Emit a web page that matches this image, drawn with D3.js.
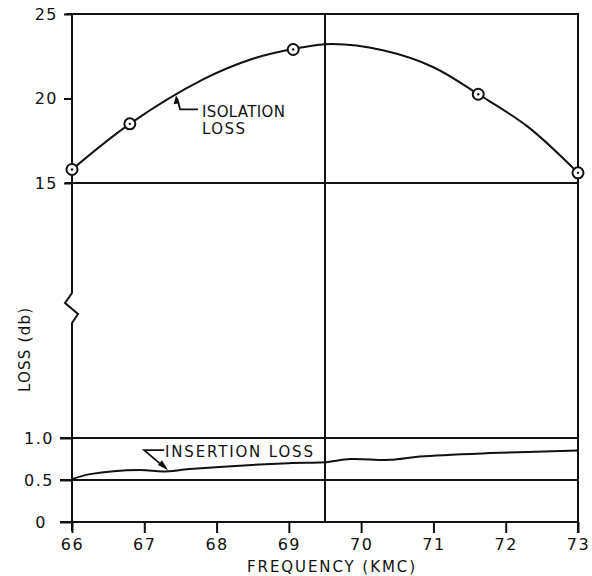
<!DOCTYPE html>
<html><head><meta charset="utf-8">
<script src="https://cdn.jsdelivr.net/npm/d3@7"></script>
<style>body{margin:0;background:#fff}</style>
</head><body>
<svg id="c" width="592" height="576"></svg>
<script>
// ---- data ----
const freqTicks = [66, 67, 68, 69, 70, 71, 72, 73];
const upperTicks = [15, 20, 25];
const upperTickLabels = ["15", "20", "25"];
const lowerTicks = [0, 0.5, 1.0];
const lowerTickLabels = ["0", "0.5", "1.0"];
const isoPointsFreq = [66, 66.8, 69.06, 71.62, 73];
const isoPointsLoss = [15.8, 18.5, 22.9, 20.25, 15.6];
const isoCurveFreq = [66, 66.8, 67.8, 68.5, 69.06, 69.6, 70.3, 71.0, 71.62, 72.3, 73];
const isoCurveLoss = [15.8, 18.5, 21.1, 22.35, 22.93, 23.22, 22.85, 21.85, 20.25, 18.35, 15.6];
const insFreq = [66, 66.25, 66.94, 67.26, 67.63, 68.99, 69.49, 69.85, 70.4, 70.81, 71.78, 73];
const insLoss = [0.51, 0.57, 0.62, 0.60, 0.63, 0.70, 0.71, 0.75, 0.74, 0.78, 0.82, 0.85];
const refFreq = 69.5;

// ---- scales ----
const ink = "#111";
const FONT = "DejaVu Sans";
const svg = d3.select("#c");
const x = d3.scaleLinear().domain([66, 73]).range([72, 578]);
const yU = d3.scaleLinear().domain([15, 25]).range([183, 14]);
const yL = d3.scaleLinear().domain([0, 1]).range([522, 438]);

// ---- grid / frame ----
const g = svg.append("g").attr("stroke", ink).attr("stroke-width", 2).attr("fill", "none");
g.append("line").attr("x1", 66).attr("x2", x(73) + 1).attr("y1", yU(25)).attr("y2", yU(25));
g.append("line").attr("x1", 65).attr("x2", x(73) + 1).attr("y1", yU(15)).attr("y2", yU(15));
lowerTicks.forEach(v => {
  g.append("line").attr("x1", 60).attr("x2", x(73)).attr("y1", yL(v)).attr("y2", yL(v));
});
// left axis with break
g.append("path").attr("d", d3.line()([
  [x(66), yU(25)], [x(66), 293], [x(66) - 7, 303], [x(66) + 6, 314], [x(66), 323], [x(66), yL(0) + 9]
]));
// right border
g.append("line").attr("x1", x(73)).attr("x2", x(73)).attr("y1", yU(25)).attr("y2", yL(0) + 11);
// reference vertical
g.append("line").attr("x1", x(refFreq)).attr("x2", x(refFreq)).attr("y1", yU(25)).attr("y2", yL(0));

// ---- axes ----
function styleAxis(sel) {
  sel.select(".domain").remove();
  sel.selectAll(".tick line").attr("stroke", ink).attr("stroke-width", 2);
  sel.selectAll(".tick text").attr("fill", ink).style("font-family", FONT).style("font-size", "16px").style("letter-spacing", "1.5px");
}
svg.append("g").attr("transform", `translate(0,${yL(0)})`)
  .call(d3.axisBottom(x).tickValues(freqTicks).tickSize(11).tickPadding(6).tickFormat(d3.format("d")))
  .call(styleAxis);
svg.append("g").attr("transform", `translate(${x(66)},0)`)
  .call(d3.axisLeft(yU).tickValues(upperTicks).tickSize(8).tickPadding(6).tickFormat((d, i) => upperTickLabels[i]))
  .call(styleAxis);
svg.append("g").attr("transform", `translate(${x(66)},0)`)
  .call(d3.axisLeft(yL).tickValues(lowerTicks).tickSize(12).tickPadding(6).tickFormat((d, i) => lowerTickLabels[i]))
  .call(styleAxis)
  .call(s => s.selectAll(".tick text").filter(d => d === 0).attr("dx", -7));

// ---- isolation curve ----
svg.append("path")
  .attr("d", d3.line().x((d, i) => x(isoCurveFreq[i])).y((d, i) => yU(isoCurveLoss[i])).curve(d3.curveCatmullRom)(isoCurveFreq))
  .attr("fill", "none").attr("stroke", ink).attr("stroke-width", 2);
const pts = svg.append("g");
isoPointsFreq.forEach((f, i) => {
  pts.append("circle").attr("cx", x(f)).attr("cy", yU(isoPointsLoss[i])).attr("r", 5.5)
    .attr("fill", "#fff").attr("stroke", ink).attr("stroke-width", 2);
  pts.append("circle").attr("cx", x(f)).attr("cy", yU(isoPointsLoss[i])).attr("r", 1.2).attr("fill", ink);
});

// ---- insertion curve ----
svg.append("path")
  .attr("d", d3.line().x((d, i) => x(insFreq[i])).y((d, i) => yL(insLoss[i])).curve(d3.curveCatmullRom)(insFreq))
  .attr("fill", "none").attr("stroke", ink).attr("stroke-width", 2);

// ---- annotations ----
const txt = (t, px, py, len, anchor) => svg.append("text").attr("x", px).attr("y", py)
  .attr("textLength", len).attr("lengthAdjust", "spacing").attr("text-anchor", anchor || "start")
  .attr("fill", ink).style("font-family", FONT).style("font-size", "15px").text(t);

// isolation leader
const tipI = [x(67.44), yU(20.25) + 1];
svg.append("path").attr("d", d3.line()([[tipI[0] + 1, tipI[1] + 3], [tipI[0] + 4, tipI[1] + 14], [tipI[0] + 22, tipI[1] + 14]]))
  .attr("fill", "none").attr("stroke", ink).attr("stroke-width", 1.8);
svg.append("path").attr("d", d3.line()([[tipI[0], tipI[1]], [tipI[0] - 2.5, tipI[1] + 9], [tipI[0] + 3.5, tipI[1] + 8]]) + "Z").attr("fill", ink);
txt("ISOLATION", 202, 117, 83);
txt("LOSS", 202, 134, 43);

// insertion leader
const tipN = [x(67.33), yL(0.605) - 1];
svg.append("path").attr("d", d3.line()([[tipN[0] - 4, tipN[1] - 20], [tipN[0] - 24, tipN[1] - 20], [tipN[0] - 4, tipN[1] - 3]]))
  .attr("fill", "none").attr("stroke", ink).attr("stroke-width", 1.8);
svg.append("path").attr("d", d3.line()([[tipN[0], tipN[1]], [tipN[0] - 10.2, tipN[1] - 5.3], [tipN[0] - 6.2, tipN[1] - 9.9]]) + "Z").attr("fill", ink);
txt("INSERTION LOSS", 165, 457, 148);

// axis titles
txt("FREQUENCY (KMC)", 331, 572, 168, "middle");
svg.append("text").attr("transform", "translate(30,350) rotate(-90)")
  .attr("text-anchor", "middle").attr("textLength", 84).attr("lengthAdjust", "spacing")
  .attr("fill", ink).style("font-family", FONT).style("font-size", "15px").text("LOSS (db)");
</script>
</body></html>
